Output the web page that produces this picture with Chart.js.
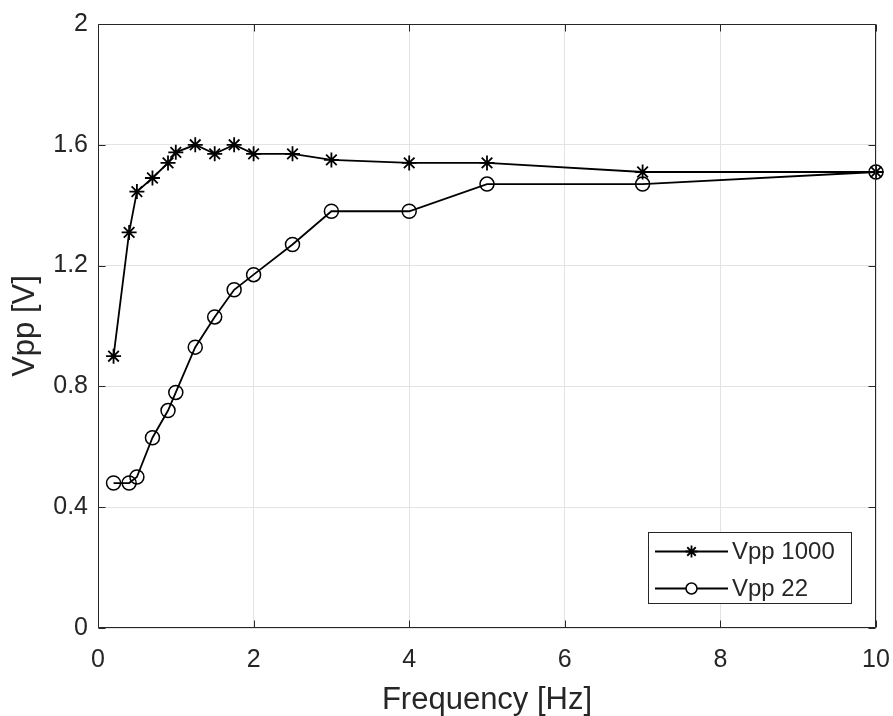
<!DOCTYPE html>
<html><head><meta charset="utf-8">
<script src="https://cdn.jsdelivr.net/npm/chart.js@4/dist/chart.umd.min.js"></script>
<style>html,body{margin:0;padding:0;background:#fff}#wrap{width:893px;height:716px}</style>
</head><body><div id="wrap"><canvas id="c" width="893" height="716"></canvas></div>
<script>
const frequency1000 = [0.2,0.4,0.5,0.7,0.9,1,1.25,1.5,1.75,2,2.5,3,4,5,7,10];
const vpp1000 = [0.90,1.31,1.445,1.49,1.54,1.575,1.60,1.57,1.60,1.57,1.57,1.55,1.54,1.54,1.51,1.51];
const frequency22 = [0.2,0.4,0.5,0.7,0.9,1,1.25,1.5,1.75,2,2.5,3,4,5,7,10];
const vpp22 = [0.48,0.48,0.50,0.63,0.72,0.78,0.93,1.03,1.12,1.17,1.27,1.38,1.38,1.47,1.47,1.51];
const seriesNames = ['Vpp 1000','Vpp 22'];
const xTicks = [0,2,4,6,8,10];
const yTicks = [0,0.4,0.8,1.2,1.6,2];
const xTitle = 'Frequency [Hz]';
const yTitle = 'Vpp [V]';

const FONT = "'Liberation Sans', Arial, Helvetica, sans-serif";
const TXT = '#262626';
const AX = '#262626';

const toPts = (xs, ys) => xs.map((x,i)=>({x:x, y:ys[i]}));

const matlabAxes = {
  id: 'matlabAxes',
  afterDatasetsDraw(chart){
    const {ctx, chartArea:a, scales:{x, y}} = chart;
    ctx.save();
    ctx.strokeStyle = AX; ctx.lineWidth = 1;
    const L = Math.round(a.left)+0.5, R = Math.round(a.right)-0.5, T = Math.round(a.top)+0.5, B = Math.round(a.bottom)-0.5;
    ctx.beginPath();
    ctx.rect(L, T, R-L, B-T);
    const tl = 7;
    xTicks.forEach(v=>{
      const px = Math.round(x.getPixelForValue(v))+0.5;
      ctx.moveTo(px, B); ctx.lineTo(px, B-tl);
      ctx.moveTo(px, T); ctx.lineTo(px, T+tl);
    });
    yTicks.forEach(v=>{
      const py = Math.round(y.getPixelForValue(v))+0.5;
      ctx.moveTo(L, py); ctx.lineTo(L+tl, py);
      ctx.moveTo(R, py); ctx.lineTo(R-tl, py);
    });
    ctx.stroke();

    // legend
    const bx = 648.5, by = 532.5, bw = 203, bh = 71;
    ctx.fillStyle = '#fff';
    ctx.fillRect(bx, by, bw, bh);
    ctx.strokeStyle = AX; ctx.lineWidth = 1;
    ctx.strokeRect(bx, by, bw, bh);
    const rows = [551.5, 588.5];
    chart.data.datasets.forEach((ds, i)=>{
      const yy = rows[i];
      ctx.strokeStyle = ds.borderColor; ctx.lineWidth = ds.borderWidth;
      ctx.beginPath(); ctx.moveTo(655, yy); ctx.lineTo(728, yy); ctx.stroke();
      ctx.fillStyle = ds.pointStyle === 'star' ? '#000' : '#fff';
      ctx.strokeStyle = '#000';
      ctx.lineWidth = ds.pointBorderWidth;
      Chart.helpers.drawPoint(ctx, {pointStyle: ds.pointStyle, radius: ds.pointStyle==='star'?6:5.5, borderWidth: ds.pointBorderWidth, rotation: 0}, 691.5, yy);
      ctx.fillStyle = TXT;
      ctx.font = "24px " + FONT;
      ctx.textBaseline = 'middle';
      ctx.textAlign = 'left';
      ctx.fillText(ds.label, 732, yy+1);
    });
    ctx.restore();
  }
};

new Chart(document.getElementById('c'), {
  type: 'line',
  data: {
    datasets: [
      {label: seriesNames[0], data: toPts(frequency1000, vpp1000), borderColor:'#000', backgroundColor:'#000',
       borderWidth:1.8, pointStyle:'star', pointRadius:7.5, pointBorderWidth:1.8, pointBorderColor:'#000', pointBackgroundColor:'#000', clip:false, order:1},
      {label: seriesNames[1], data: toPts(frequency22, vpp22), borderColor:'#000', backgroundColor:'rgba(0,0,0,0)',
       borderWidth:1.8, pointStyle:'circle', pointRadius:7, pointBorderWidth:1.5, pointBorderColor:'#000', pointBackgroundColor:'rgba(0,0,0,0)', clip:false, order:0}
    ]
  },
  options: {
    responsive:false, animation:false, devicePixelRatio:1,
    layout:{padding:{top:24, right:17, left:0, bottom:0}},
    plugins:{legend:{display:false}, tooltip:{enabled:false}},
    elements:{line:{tension:0}},
    scales:{
      x:{type:'linear', min:0, max:10,
        afterBuildTicks: s => { s.ticks = xTicks.map(v=>({value:v})); },
        afterFit: s => { s.height = 88; s.paddingLeft = 0; s.paddingRight = 0; },
        ticks:{font:{size:25, family:FONT}, color:TXT, padding:17, maxRotation:0, autoSkip:false, callback: v => String(v)},
        grid:{color:'#e3e3e3', lineWidth:1, drawTicks:false},
        border:{display:false},
        title:{display:true, text:xTitle, color:TXT, font:{size:31, family:FONT, lineHeight:1}, padding:{top:0, bottom:0}}
      },
      y:{type:'linear', min:0, max:2,
        afterBuildTicks: s => { s.ticks = yTicks.map(v=>({value:v})); },
        afterFit: s => { s.width = 98; s.paddingTop = 0; s.paddingBottom = 0; },
        ticks:{font:{size:25, family:FONT}, color:TXT, padding:10, autoSkip:false, callback: v => String(Number(v.toFixed(2)))},
        grid:{color:'#e3e3e3', lineWidth:1, drawTicks:false},
        border:{display:false},
        title:{display:true, text:yTitle, color:TXT, font:{size:31, family:FONT, lineHeight:1}, padding:{top:10, bottom:0}}
      }
    }
  },
  plugins:[matlabAxes]
});
</script></body></html>
